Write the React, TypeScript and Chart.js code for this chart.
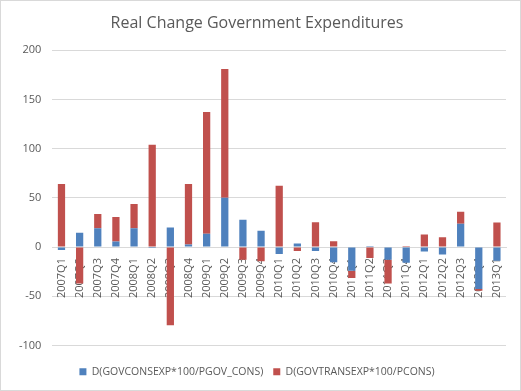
import React, { useEffect, useRef } from "react";
import { Chart, registerables, layouts } from "chart.js";
Chart.register(...registerables);

const quarters = [
  "2007Q1", "2007Q2", "2007Q3", "2007Q4",
  "2008Q1", "2008Q2", "2008Q3", "2008Q4",
  "2009Q1", "2009Q2", "2009Q3", "2009Q4",
  "2010Q1", "2010Q2", "2010Q3", "2010Q4",
  "2011Q1", "2011Q2", "2011Q3", "2011Q4",
  "2012Q1", "2012Q2", "2012Q3", "2012Q4",
  "2013Q1",
];

const govCons = [
  -3, 14.5, 19, 5.6,
  19, -1, 20, 2.5,
  13.5, 50, 27.7, 16.5,
  -7, 3.6, -3.9, -15.5,
  -24, 1.2, -13, -16,
  -4.6, -7.6, 23.7, -42.7,
  -14,
];

const govTrans = [
  64, -37, 14.5, 25,
  24.7, 104, -79.4, 61.5,
  123.7, 131, -13, -14.5,
  62.4, -3.9, 25.3, 5.9,
  -7.4, -11, -24, 1.2,
  12.8, 10, 12.2, -1.7,
  25,
];

const seriesNames = ["D(GOVCONSEXP*100/PGOV_CONS)", "D(GOVTRANSEXP*100/PCONS)"];
const chartTitle = "Real Change Government Expenditures";
const yMin = -100;
const yMax = 200;
const yStep = 50;

const FONT = "'Open Sans', 'Liberation Sans', sans-serif";
const TEXT = "#595959";
const GRID = "#d9d9d9";

// Empty layout box between plot area and legend (gap below the plot)
const bottomGap = {
  id: "bottomGap",
  beforeInit(chart: any) {
    const box: any = {
      position: "bottom",
      weight: 500,
      fullSize: true,
      options: {},
      top: 0,
      left: 0,
      right: 0,
      bottom: 0,
      width: 0,
      height: 11,
      isHorizontal() {
        return true;
      },
      update(maxWidth: number) {
        this.width = maxWidth;
        this.height = 11;
      },
      draw() {},
    };
    layouts.addBox(chart, box);
  },
};

export default function App() {
  const ref = useRef<HTMLCanvasElement>(null);
  useEffect(() => {
    const chart = new Chart(ref.current!, {
      type: "bar",
      data: {
        labels: quarters,
        datasets: [
          {
            label: seriesNames[0],
            data: govCons,
            backgroundColor: "#4F81BD",
            barPercentage: 0.4,
            categoryPercentage: 1,
          },
          {
            label: seriesNames[1],
            data: govTrans,
            backgroundColor: "#C0504D",
            barPercentage: 0.4,
            categoryPercentage: 1,
          },
        ],
      },
      options: {
        responsive: false,
        animation: false,
        layout: { padding: { left: 8, right: 15, top: 0, bottom: 4 } },
        plugins: {
          title: {
            display: true,
            text: chartTitle,
            color: TEXT,
            font: { family: FONT, size: 16, weight: "normal" },
            padding: { top: 14, bottom: 17 },
          },
          legend: {
            position: "bottom",
            labels: {
              boxWidth: 7,
              boxHeight: 7,
              color: TEXT,
              font: { family: FONT, size: 10.5 },
              padding: 10,
            },
          },
          tooltip: { enabled: false },
        },
        scales: {
          x: {
            stacked: true,
            position: { y: 0 } as any,
            z: 1,
            grid: { display: false },
            border: { color: GRID },
            ticks: {
              autoSkip: false,
              maxRotation: 90,
              minRotation: 90,
              color: TEXT,
              font: { family: FONT, size: 11 },
              padding: 3,
            },
          },
          y: {
            stacked: true,
            min: yMin,
            max: yMax,
            ticks: {
              stepSize: yStep,
              color: TEXT,
              font: { family: FONT, size: 11 },
              padding: 11,
            },
            grid: { color: GRID, drawTicks: false },
            border: { display: false },
          },
        },
      },
      plugins: [bottomGap],
    });
    return () => chart.destroy();
  }, []);
  return (
    <div style={{ position: "fixed", left: 0, top: 0, width: 521, height: 391, background: "#fff" }}>
      <canvas ref={ref} width={521} height={391} style={{ position: "absolute", left: 0, top: 0 }} />
      <div
        style={{
          position: "absolute",
          left: 0,
          top: 0,
          width: 521,
          height: 391,
          boxSizing: "border-box",
          border: "1px solid #d9d9d9",
          pointerEvents: "none",
        }}
      />
    </div>
  );
}
